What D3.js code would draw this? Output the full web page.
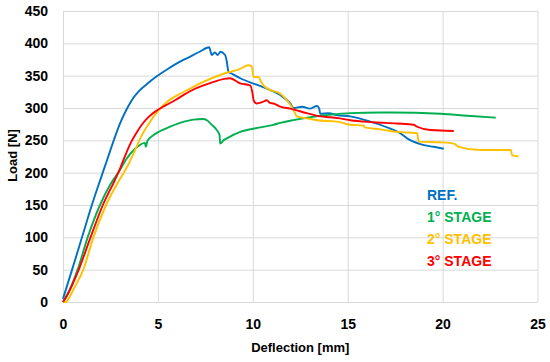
<!DOCTYPE html>
<html>
<head>
<meta charset="utf-8">
<script src="https://cdn.jsdelivr.net/npm/d3@7"></script>
<style>
  html, body { margin: 0; padding: 0; background: #fff; }
  svg { display: block; font-family: "Liberation Sans", Arial, sans-serif; }
  .grid line { stroke: #d9d9d9; stroke-width: 1; }
  .grid path { display: none; }
  .tick text { font-size: 14px; font-weight: bold; fill: #000; }
</style>
</head>
<body>
<main></main>
<script>
// series: [deflection mm, load N]
const refData = [[0,5],[0.5,52],[1.0,100],[1.5,148],[2.0,192],[2.35,222],[2.65,248],[3.0,276],[3.3,295],[3.6,311],[4.0,326],[4.5,339],[4.94,349],[5.5,360],[6.0,369],[6.6,378],[7.2,387],[7.7,394],[7.84,382],[8.0,386],[8.15,382],[8.3,387],[8.54,382],[8.63,372],[8.72,356],[8.9,353],[9.34,346],[10.2,336],[10.9,328],[11.45,320],[11.97,307],[12.15,300],[12.6,302],[13.0,299],[13.38,303],[13.5,299],[13.55,291],[14.0,292],[14.43,289],[15.14,287],[16.19,279],[17.25,268],[17.77,261],[18.13,253],[18.83,244],[19.53,240],[20.06,237]];
const stage1Data = [[0,0],[0.2,10],[0.77,50],[1.3,100],[1.95,150],[2.5,182],[3.0,204],[3.36,222],[3.8,237],[4.32,246],[4.36,240],[4.45,249],[4.76,258],[5.1,264],[5.47,269],[6.17,277],[6.87,282],[7.4,283],[7.58,281],[7.84,274],[8.1,266],[8.25,258],[8.28,245],[8.46,250],[8.63,253],[9.34,263],[9.69,266],[10.4,270],[11.09,274],[11.45,277],[12.85,285],[14.43,290.5],[15.14,292],[16.72,293],[17.25,293],[19.9,291],[21.3,288],[22.8,285]];
const stage2Data = [[0,0],[0.15,0],[0.35,8],[0.6,22],[1.07,50],[1.6,100],[2.27,150],[3.0,190],[3.36,208],[3.8,235],[4.1,255],[4.5,275],[5.0,295],[5.5,310],[6.17,322],[6.7,330],[7.22,338],[8.46,353],[9.3,360],[9.77,366],[9.95,364],[10.04,348],[10.3,348],[10.4,343],[10.56,335],[10.92,328],[11.45,322],[11.8,312],[12.15,297],[12.32,287],[12.85,284],[13.38,281],[14.43,279],[15.14,274],[15.84,273],[15.9,270],[16.72,267],[17.6,263],[18.66,261],[18.74,248],[19.9,247],[20.59,245],[20.85,240],[22.0,235],[23.6,235],[23.66,227],[24.0,225]];
const stage3Data = [[0,0],[0.25,12],[0.83,50],[1.45,100],[2.1,150],[2.74,189],[3.0,206],[3.3,228],[3.6,248],[3.9,263],[4.2,276],[4.5,286],[4.94,296],[5.4,304],[5.9,312],[6.4,321],[6.9,329],[7.4,335],[7.9,340],[8.5,345],[8.8,346],[9.34,338],[9.86,335],[10.0,320],[10.04,312],[10.2,307],[10.5,309],[10.74,312],[10.9,308],[11.09,307],[11.45,302],[11.97,299],[12.85,292],[13.55,287],[14.08,285.6],[14.6,284],[15.14,281],[16.37,278],[17.6,276],[18.48,274],[18.66,271],[19.36,266],[20.59,264.5]];

const seriesNames = ["REF.", "1° STAGE", "2° STAGE", "3° STAGE"];
const seriesColors = ["#0070C0", "#00B050", "#FFC000", "#FF0000"];
const xTicks = [0, 5, 10, 15, 20, 25];
const yTicks = [0, 50, 100, 150, 200, 250, 300, 350, 400, 450];

const W = 550, H = 362;
const plot = { left: 63, right: 537.5, top: 11, bottom: 302 };

const svg = d3.select("main")
  .append("svg")
  .attr("width", W)
  .attr("height", H);

const x = d3.scaleLinear().domain([0, 25]).range([plot.left, plot.right]);
const y = d3.scaleLinear().domain([0, 450]).range([plot.bottom, plot.top]);

// axes double as gridlines
svg.append("g")
  .attr("class", "grid")
  .attr("transform", "translate(0," + plot.bottom + ")")
  .call(d3.axisBottom(x).tickValues(xTicks).tickSize(-(plot.bottom - plot.top)).tickPadding(17));

svg.append("g")
  .attr("class", "grid")
  .attr("transform", "translate(" + plot.left + ",0)")
  .call(d3.axisLeft(y).tickValues(yTicks).tickSize(-(plot.right - plot.left)).tickPadding(15));

svg.append("text")
  .attr("x", (plot.left + plot.right) / 2)
  .attr("y", 352)
  .attr("text-anchor", "middle")
  .style("font-size", "13px")
  .style("font-weight", "bold")
  .text("Deflection [mm]");

svg.append("text")
  .attr("transform", "translate(17," + 155.5 + ") rotate(-90)")
  .attr("text-anchor", "middle")
  .style("font-size", "13px")
  .style("font-weight", "bold")
  .text("Load [N]");

const line = d3.line()
  .curve(d3.curveMonotoneX)
  .x(d => x(d[0]))
  .y(d => y(d[1]));

const allSeries = [refData, stage1Data, stage2Data, stage3Data];
svg.selectAll(".series")
  .data(allSeries)
  .enter()
  .append("path")
  .attr("class", "series")
  .attr("fill", "none")
  .attr("stroke", (d, i) => seriesColors[i])
  .attr("stroke-width", 1.9)
  .attr("stroke-linejoin", "round")
  .attr("d", line);

svg.selectAll(".legend-label")
  .data(seriesNames)
  .enter()
  .append("text")
  .attr("class", "legend-label")
  .attr("x", 427)
  .attr("y", (d, i) => 200 + i * 21.9)
  .style("font-size", "14px")
  .style("font-weight", "bold")
  .style("fill", (d, i) => seriesColors[i])
  .text(d => d);
</script>
</body>
</html>
